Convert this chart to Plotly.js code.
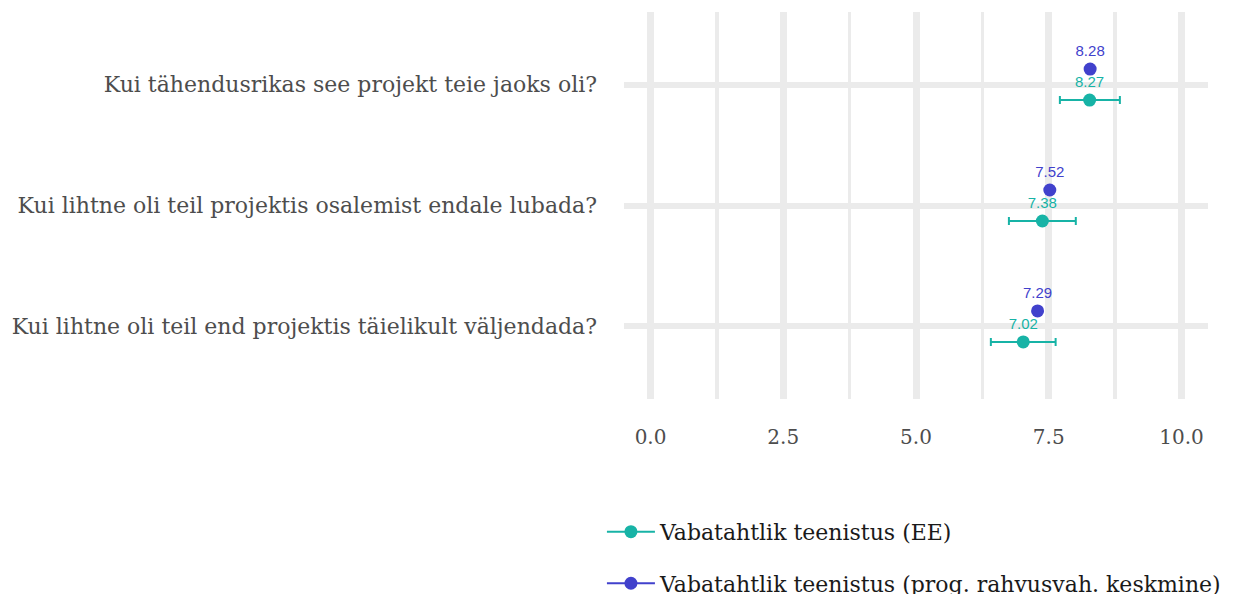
<!DOCTYPE html>
<html>
<head>
<meta charset="utf-8">
<script src="https://cdn.plot.ly/plotly-3.0.1.min.js"></script>
<style>html,body{margin:0;padding:0;background:#fff;}#chart{width:1236px;height:594px;}</style>
</head>
<body>
<div id="chart"></div>
<script>
const questions = [
  "Kui tähendusrikas see projekt teie jaoks oli?",
  "Kui lihtne oli teil projektis osalemist endale lubada?",
  "Kui lihtne oli teil end projektis täielikult väljendada?"
];
const seriesNames = ["Vabatahtlik teenistus (EE)", "Vabatahtlik teenistus (prog. rahvusvah. keskmine)"];
const eeValues = [8.27, 7.38, 7.02];
const eeLow = [7.71, 6.75, 6.41];
const eeHigh = [8.84, 8.01, 7.63];
const progValues = [8.28, 7.52, 7.29];
const xTicks = [0, 2.5, 5, 7.5, 10];
const xTickText = ["0.0", "2.5", "5.0", "7.5", "10.0"];

const teal = "#17b3a6";
const blue = "#4141cc";
const dodge = 0.128;
const serif = "'DejaVu Serif', serif";

// interleave nulls so the line (shown in legend) connects nothing on the plot
function gap(arr) { const out = []; arr.forEach((v, i) => { out.push(v); if (i < arr.length - 1) out.push(null); }); return out; }

const idx = questions.map((q, i) => i);
const traces = [
  {
    name: seriesNames[0], legendgroup: "a",
    x: gap(eeValues), y: gap(idx.map(i => i + dodge)),
    mode: "markers+lines+text", type: "scatter", connectgaps: false,
    line: {color: teal, width: 2},
    marker: {color: teal, size: 13},
    text: gap(eeValues.map(v => v.toFixed(2))),
    textposition: "top center",
    textfont: {family: "'Liberation Sans', Arial, sans-serif", size: 15, color: teal},
    error_x: {type: "data", symmetric: false,
      array: gap(eeHigh.map((h, i) => h - eeValues[i])),
      arrayminus: gap(eeLow.map((l, i) => eeValues[i] - l)),
      color: teal, thickness: 2, width: 4},
    hoverinfo: "x"
  },
  {
    name: seriesNames[1], legendgroup: "b",
    x: gap(progValues), y: gap(idx.map(i => i - dodge)),
    mode: "markers+lines+text", type: "scatter", connectgaps: false,
    line: {color: blue, width: 2},
    marker: {color: blue, size: 13},
    text: gap(progValues.map(v => v.toFixed(2))),
    textposition: "top center",
    textfont: {family: "'Liberation Sans', Arial, sans-serif", size: 15, color: blue},
    hoverinfo: "x"
  }
];

const layout = {
  width: 1236, height: 594,
  margin: {l: 624, r: 28, t: 12, b: 195, autoexpand: false},
  paper_bgcolor: "#fff", plot_bgcolor: "#fff",
  showlegend: true,
  font: {family: serif, color: "#4d4d4d"},
  xaxis: {
    range: [-0.5, 10.5], tickvals: xTicks, ticktext: xTickText,
    showgrid: true, gridcolor: "#ebebeb", gridwidth: 7,
    zeroline: false, showline: false, ticks: "",
    tickfont: {family: serif, size: 20, color: "#4d4d4d"},
    ticklabelstandoff: 24,
    minor: {dtick: 1.25, tick0: 0, showgrid: true, gridcolor: "#ebebeb", gridwidth: 3.5, ticks: ""}
  },
  yaxis: {
    range: [2.6, -0.6], tickvals: idx, ticktext: questions,
    showgrid: true, gridcolor: "#ebebeb", gridwidth: 6,
    zeroline: false, showline: false, ticks: "",
    tickfont: {family: serif, size: 22, color: "#4d4d4d"},
    ticklabelstandoff: 26
  },
  legend: {
    orientation: "v", xref: "container", yref: "container",
    x: 0.487, xanchor: "left", y: 0.14, yanchor: "top",
    font: {family: serif, size: 22, color: "#1a1a1a"},
    traceorder: "grouped", tracegroupgap: 20,
    itemwidth: 48
  }
};

Plotly.newPlot("chart", traces, layout, {displayModeBar: false, staticPlot: true});
</script>
</body>
</html>
